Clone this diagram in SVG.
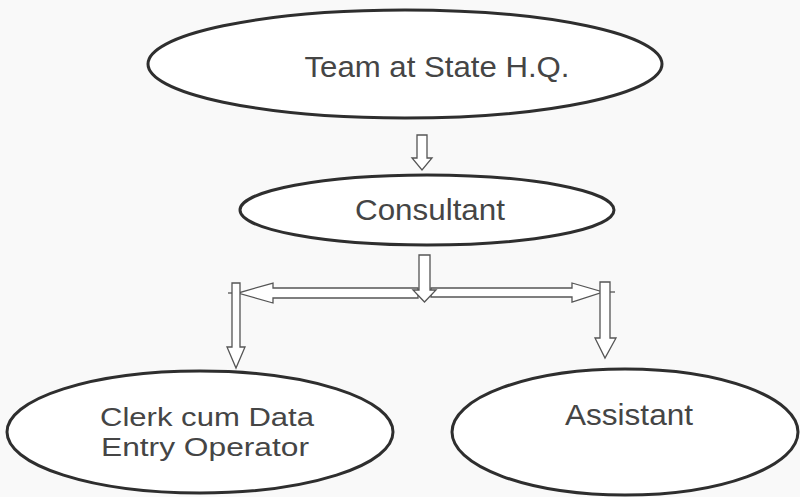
<svg xmlns="http://www.w3.org/2000/svg" width="800" height="497" viewBox="0 0 800 497">
<style>
.node{fill:#ffffff;stroke:#2e2e2e;stroke-width:3}
.lbl{font-family:"Liberation Sans",Arial,sans-serif;font-size:30px;fill:#454545;text-anchor:middle}
.sm{font-size:26px}
.arr{fill:#ffffff;stroke:#555555;stroke-width:1.3;stroke-linejoin:miter}
</style>
<rect width="800" height="497" fill="#f9f9f9"/>
<g id="team">
<ellipse class="node" cx="405" cy="64" rx="257" ry="54"/>
<text class="lbl" x="437" y="77" textLength="265" lengthAdjust="spacingAndGlyphs">Team at State H.Q.</text>
</g>
<g id="consultant">
<ellipse class="node" cx="427" cy="210" rx="187" ry="35"/>
<text class="lbl" x="430" y="220" textLength="150" lengthAdjust="spacingAndGlyphs">Consultant</text>
</g>
<g id="clerk">
<ellipse class="node" cx="200" cy="432" rx="193" ry="61"/>
<text class="lbl sm" x="207" y="426" textLength="214" lengthAdjust="spacingAndGlyphs">Clerk cum Data</text>
<text class="lbl sm" x="205" y="455.5" textLength="208" lengthAdjust="spacingAndGlyphs">Entry Operator</text>
</g>
<g id="assistant">
<ellipse class="node" cx="625" cy="432" rx="173" ry="63"/>
<text class="lbl" x="629" y="425" textLength="128" lengthAdjust="spacingAndGlyphs">Assistant</text>
</g>
<g id="connectors">
<polygon class="arr" points="417,135 427,135 427,158 432,158 422,170 412,158 417,158"/>
<line x1="228" y1="293" x2="240" y2="293" stroke="#555" stroke-width="1.3"/>
<line x1="603" y1="292" x2="615" y2="292" stroke="#555" stroke-width="1.3"/>
<polygon class="arr" points="418,288 273,288 273,283 238,293 273,303 273,298 418,298"/>
<polygon class="arr" points="431,288 572,288 572,283 603,292 572,302 572,297 431,297"/>
<polygon class="arr" points="419,255 430,255 430,290 436,290 424.5,302 413,290 419,290"/>
<polygon class="arr" points="232,283 240,283 240,347 245,347 236,368 227,347 232,347"/>
<polygon class="arr" points="600,282 610,282 610,338 616,338 605,358 595,338 600,338"/>
</g>
</svg>
